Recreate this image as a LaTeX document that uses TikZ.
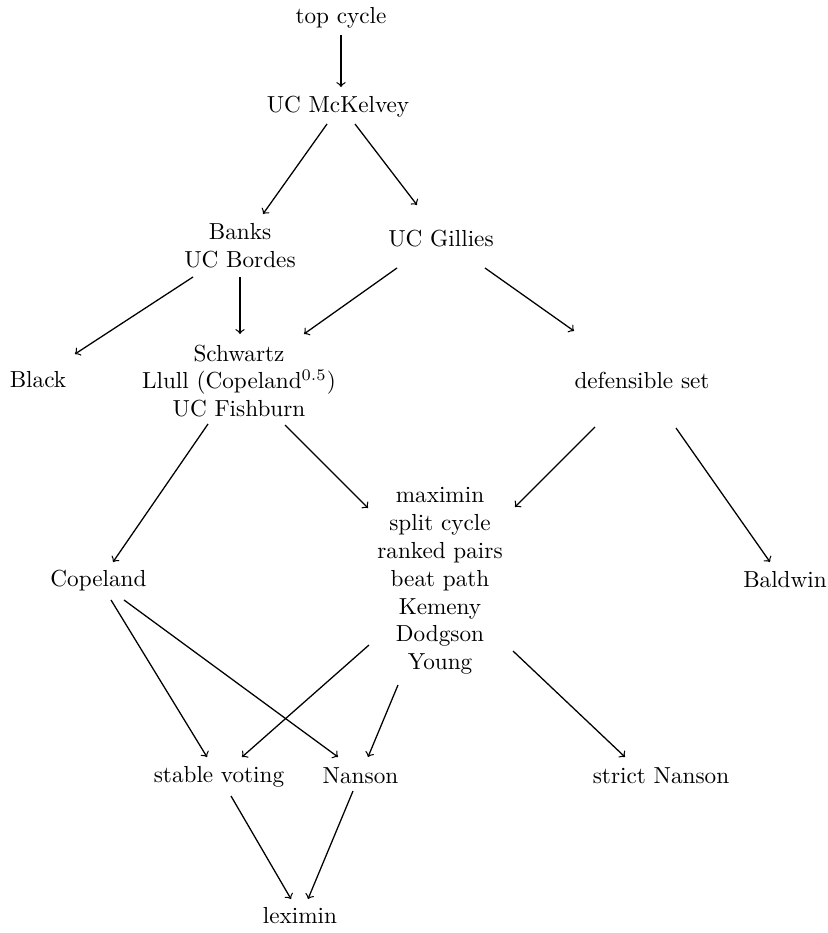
\documentclass[tikz,border=0pt]{standalone}
\usepackage{amsmath}
\usetikzlibrary{arrows,positioning}
\tikzset{
meth_n/.style = {align=center, text centered},% methode, un ou plusieurs noms
meth_e/.style = {->, >=to, line width=0.55pt}% fleche d'inclusion
}

\begin{document}
\begin{tikzpicture}[x=0.431pt, y=-0.431pt]
	\useasboundingbox (0,0) rectangle (827,933);
	% rangs
	\node [meth_n] (top) at (341,18) {top cycle};
	\node [meth_n] (mck) at (338,107) {UC McKelvey};
	\node [meth_n] (banks) at (240,246) {Banks\\UC Bordes};
	\node [meth_n] (gillies) at (441,239) {UC Gillies};
	\node [meth_n] (black) at (38,380) {Black};
	\node [meth_n] (schw) at (239,381) {Schwartz\\Llull (Copeland$^{0.5}$)\\UC Fishburn};
	\node [meth_n] (defs) at (642,380) {defensible set};
	\node [meth_n] (cope) at (98.5,581) {Copeland};
	\node [meth_n] (maxi) at (440,581) {maximin\\split cycle\\ranked pairs\\beat path\\Kemeny\\Dodgson\\Young};
	\node [meth_n] (bald) at (785,580) {Baldwin};
	\node [meth_n] (stab) at (219,777) {stable voting};
	\node [meth_n] (nans) at (360.5,776) {Nanson};
	\node [meth_n] (snans) at (661,776) {strict Nanson};
	\node [meth_n] (lexi) at (300,916) {leximin};
	% fleches
	\draw [meth_e] ([shift={(0,17)}]top.center) -- ([shift={(3,-20)}]mck.center);
	\draw [meth_e] ([shift={(-11,17)}]mck.center) -- ([shift={(23,-32)}]banks.center);
	\draw [meth_e] ([shift={(17,17)}]mck.center) -- ([shift={(-24,-34)}]gillies.center);
	\draw [meth_e] ([shift={(-47,31)}]banks.center) -- ([shift={(37,-26)}]black.center);
	\draw [meth_e] ([shift={(0,31)}]banks.center) -- ([shift={(1,-47)}]schw.center);
	\draw [meth_e] ([shift={(-44,29)}]gillies.center) -- ([shift={(65,-47)}]schw.center);
	\draw [meth_e] ([shift={(44,29)}]gillies.center) -- ([shift={(-68,-49)}]defs.center);
	\draw [meth_e] ([shift={(-31,43)}]schw.center) -- ([shift={(14.5,-19)}]cope.center);
	\draw [meth_e] ([shift={(46,44)}]schw.center) -- ([shift={(-72,-73)}]maxi.center);
	\draw [meth_e] ([shift={(-47,47)}]defs.center) -- ([shift={(75,-74)}]maxi.center);
	\draw [meth_e] ([shift={(34,48)}]defs.center) -- ([shift={(-15,-18)}]bald.center);
	\draw [meth_e] ([shift={(12.5,19)}]cope.center) -- ([shift={(-12,-20)}]stab.center);
	\draw [meth_e] ([shift={(25.5,19)}]cope.center) -- ([shift={(-22.5,-19)}]nans.center);
	\draw [meth_e] ([shift={(-71,64)}]maxi.center) -- ([shift={(23,-20)}]stab.center);
	\draw [meth_e] ([shift={(-42,104)}]maxi.center) -- ([shift={(7.5,-19)}]nans.center);
	\draw [meth_e] ([shift={(73,70)}]maxi.center) -- ([shift={(-36,-19)}]snans.center);
	\draw [meth_e] ([shift={(12,19)}]stab.center) -- ([shift={(-9,-17)}]lexi.center);
	\draw [meth_e] ([shift={(-7.5,15)}]nans.center) -- ([shift={(8,-17)}]lexi.center);
\end{tikzpicture}
\end{document}
